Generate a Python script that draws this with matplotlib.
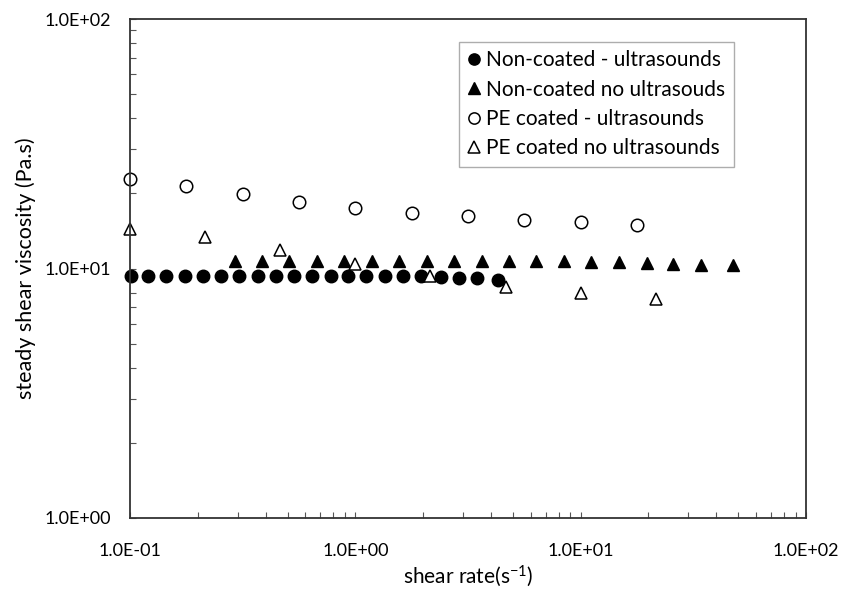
import numpy as np
import matplotlib
matplotlib.use("Agg")
import matplotlib.pyplot as plt
from matplotlib.ticker import LogLocator, FixedLocator, NullFormatter

plt.rcParams["font.family"] = ["Lato", "DejaVu Sans"]
plt.rcParams["mathtext.default"] = "regular"

# Non-coated - ultrasounds
nc_us_x = [0.101, 0.12, 0.145, 0.175, 0.21, 0.254, 0.306, 0.368, 0.443, 0.535,
           0.645, 0.776, 0.925, 1.12, 1.35, 1.63, 1.96, 2.39, 2.87, 3.46, 4.3]
nc_us_y = [9.35, 9.35, 9.35, 9.35, 9.35, 9.35, 9.35, 9.35, 9.35, 9.35,
           9.35, 9.35, 9.3, 9.3, 9.3, 9.3, 9.3, 9.25, 9.2, 9.15, 9.0]

# Non-coated no ultrasounds
nc_no_x = [0.291, 0.385, 0.51, 0.675, 0.89, 1.18, 1.57, 2.07, 2.74, 3.64,
           4.8, 6.35, 8.45, 11.1, 14.8, 19.6, 25.8, 34.3, 47.5]
nc_no_y = [10.75, 10.75, 10.75, 10.75, 10.75, 10.75, 10.75, 10.75, 10.75, 10.75,
           10.75, 10.75, 10.7, 10.65, 10.6, 10.55, 10.45, 10.35, 10.3]

# PE coated - ultrasounds
pe_us_x = [0.1, 0.178, 0.316, 0.562, 1.0, 1.78, 3.16, 5.62, 10.0, 17.8]
pe_us_y = [22.8, 21.5, 19.9, 18.5, 17.4, 16.7, 16.3, 15.7, 15.4, 15.0]

# PE coated no ultrasounds
pe_no_x = [0.1, 0.215, 0.464, 1.0, 2.15, 4.64, 10.0, 21.5]
pe_no_y = [14.4, 13.4, 11.9, 10.4, 9.3, 8.45, 8.0, 7.53]

fig = plt.figure(figsize=(8.46, 5.92), dpi=100)
ax = fig.add_axes([130 / 846, 1 - 518 / 592, 676 / 846, 499 / 592])

ms = 9
ax.plot(nc_us_x, nc_us_y, "o", color="black", ms=ms, label="Non-coated - ultrasounds", clip_on=False)
ax.plot(nc_no_x, nc_no_y, "^", color="black", ms=ms, label="Non-coated no ultrasouds", clip_on=False)
ax.plot(pe_us_x, pe_us_y, "o", mfc="white", mec="black", mew=1.1, ms=ms,
        label="PE coated - ultrasounds", clip_on=False)
ax.plot(pe_no_x, pe_no_y, "^", mfc="white", mec="black", mew=1.1, ms=ms,
        label="PE coated no ultrasounds", clip_on=False)

ax.set_xscale("log")
ax.set_yscale("log")
ax.set_xlim(0.1, 100)
ax.set_ylim(1, 100)

ax.xaxis.set_major_locator(FixedLocator([0.1, 1, 10, 100]))
ax.yaxis.set_major_locator(FixedLocator([1, 10, 100]))
ax.xaxis.set_minor_locator(LogLocator(base=10, subs=np.arange(2, 10)))
ax.yaxis.set_minor_locator(LogLocator(base=10, subs=np.arange(2, 10)))
ax.xaxis.set_minor_formatter(NullFormatter())
ax.yaxis.set_minor_formatter(NullFormatter())
ax.set_xticklabels(["1.0E-01", "1.0E+00", "1.0E+01", "1.0E+02"])
ax.set_yticklabels(["1.0E+00", "1.0E+01", "1.0E+02"])

ax.tick_params(which="both", direction="in", length=4, width=0.8, color="#555555",
               labelsize=13, top=False, right=False)
ax.tick_params(axis="x", which="major", pad=18)
ax.tick_params(axis="y", which="major", pad=14)

for s in ax.spines.values():
    s.set_linewidth(1.3)
    s.set_color("#333333")

ax.set_xlabel("shear rate(s$^{-1}$)", fontsize=15, labelpad=3)
ax.set_ylabel("steady shear viscosity (Pa.s)", fontsize=15.5, labelpad=6)

leg = ax.legend(loc="upper left", bbox_to_anchor=(0.487, 0.954), borderaxespad=0,
                fontsize=15, frameon=True, fancybox=False, edgecolor="#999999",
                handlelength=0.6, handletextpad=0.3, markerscale=0.9,
                labelspacing=0.45, borderpad=0.4)
leg.get_frame().set_linewidth(1.0)

fig.savefig("out.png", dpi=100)
